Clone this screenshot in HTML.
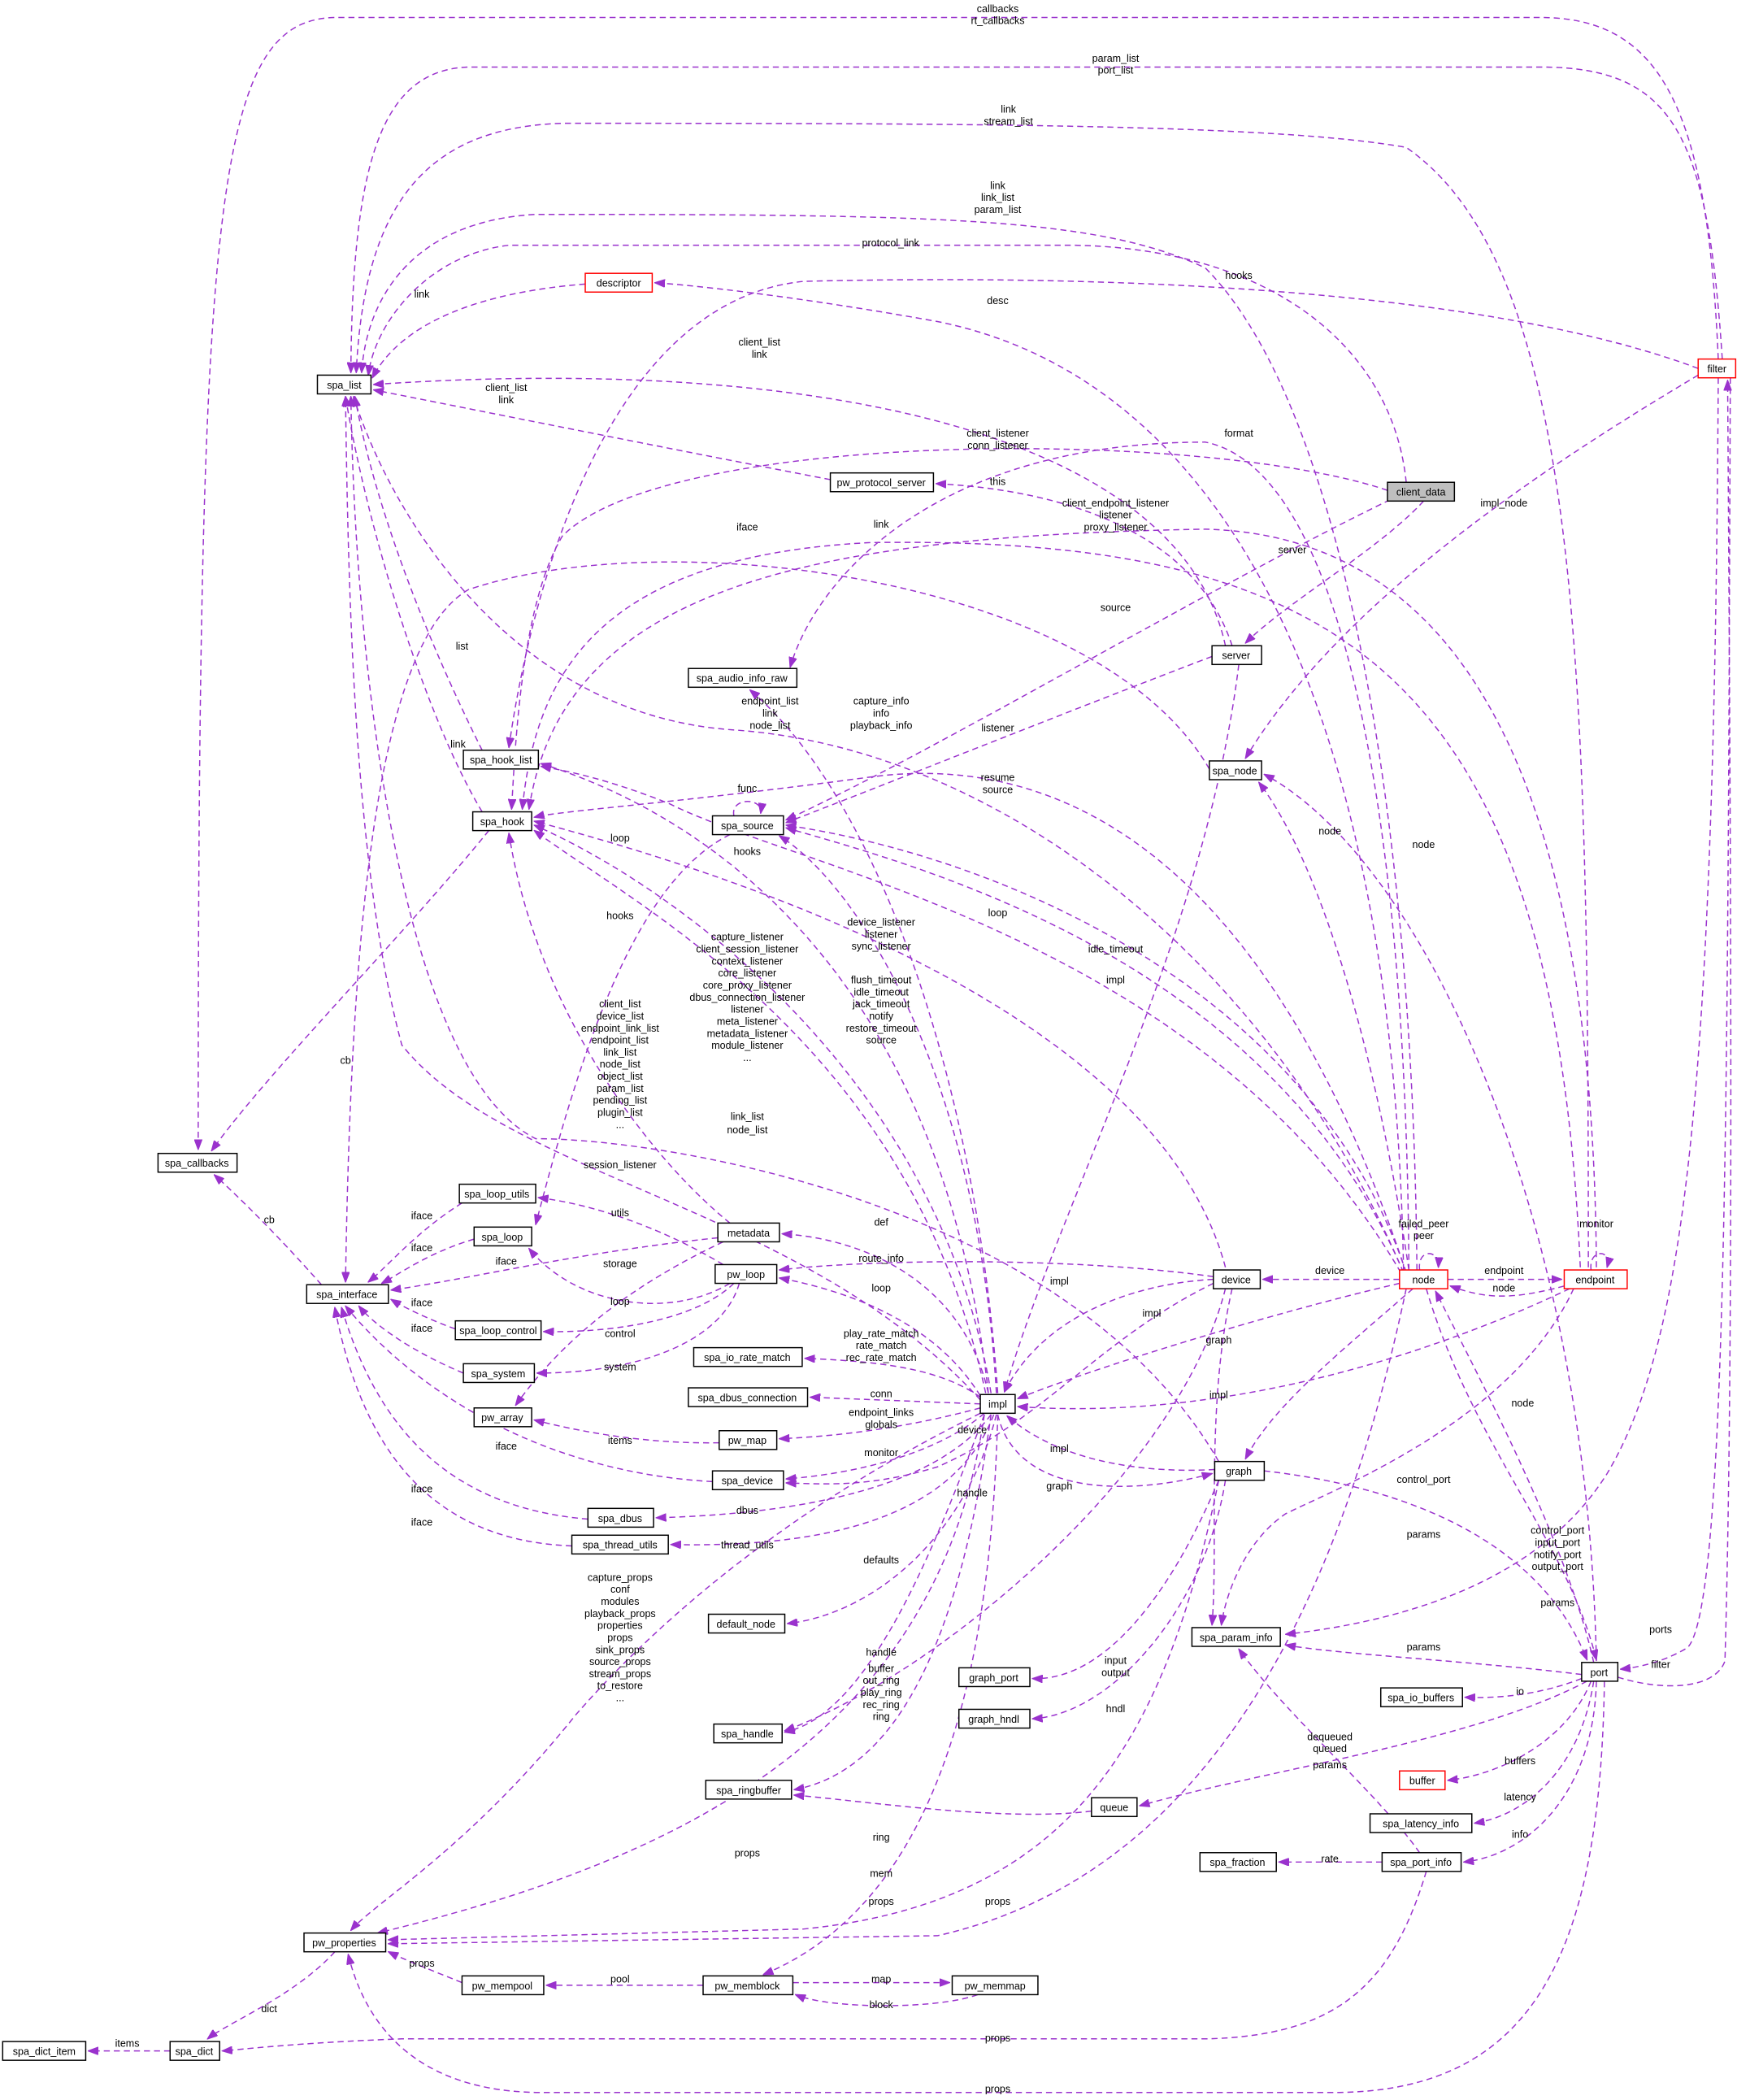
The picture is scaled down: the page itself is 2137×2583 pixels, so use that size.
<!DOCTYPE html>
<html><head><meta charset="utf-8"><style>
html,body{margin:0;padding:0;background:#fff;}
svg{display:block;}
text{font-family:"Liberation Sans",sans-serif;font-size:7.6px;fill:#000;text-anchor:middle;}
.e{fill:none;stroke:#9a32cd;stroke-width:0.9;stroke-dasharray:4.5,3;marker-end:url(#a);}
.n{fill:#fff;stroke:#000;stroke-width:0.9;}
.r{fill:#fff;stroke:#ff0000;stroke-width:0.9;}
.g{fill:#bfbfbf;stroke:#000;stroke-width:0.9;}
</style></head><body>
<svg width="2137" height="2583" viewBox="0 0 1297 1567.6" xmlns="http://www.w3.org/2000/svg">
<defs><marker id="a" markerWidth="8" markerHeight="6" refX="7.5" refY="3" orient="auto" markerUnits="userSpaceOnUse"><path d="M0,0 L8,3 L0,6 z" fill="#9a32cd" stroke="#9a32cd" stroke-width="0.5"/></marker></defs>
<g>
<path class="e" d="M1283,268 C1275,80 1240,13 1150,13 L250,13 C160,15 148,150 148,858"/>
<path class="e" d="M1286,268 C1275,100 1250,50 1150,50 L350,50 C285,52 263,120 262,278"/>
<path class="e" d="M1186,946 C1186,500 1180,200 1050,110 C950,92 700,92 420,92 C320,95 272,150 266,278"/>
<path class="e" d="M1058,948 C1055,600 1000,300 900,200 C820,162 700,160 400,160 C310,165 274,220 270,278"/>
<path class="e" d="M1050,360 C1040,260 950,185 800,183 L380,183 C320,190 280,240 275,280"/>
<path class="e" d="M437,212 C360,218 300,240 278,282"/>
<path class="e" d="M1268,275 C1100,212 800,205 600,210 C450,225 395,450 380,558"/>
<path class="e" d="M1048,948 C1040,500 900,280 700,240 C600,222 520,213 489,211"/>
<path class="e" d="M915,482 C880,320 600,265 279,287"/>
<path class="e" d="M620,358 C500,335 350,305 279,291"/>
<path class="e" d="M1036,366 C900,320 500,320 420,400 C390,450 385,550 382,604"/>
<path class="e" d="M920,482 C890,390 780,365 699,361"/>
<path class="e" d="M1063,374 C1030,410 960,450 930,480"/>
<path class="e" d="M1052,948 C1050,600 1000,350 900,330 C700,330 610,430 590,498"/>
<path class="e" d="M1192,946 C1190,600 1100,400 900,395 C600,400 420,440 395,604"/>
<path class="e" d="M903,574 C820,430 500,390 350,440 C280,480 262,700 258,957"/>
<path class="e" d="M1180,946 C1160,500 1000,400 650,405 C450,415 400,500 390,604"/>
<path class="e" d="M1038,373 C900,440 700,560 587,612"/>
<path class="e" d="M905,490 C800,530 650,590 587,614"/>
<path class="e" d="M548,609 C545,595 570,595 568,607"/>
<path class="e" d="M925,496 C900,700 790,900 750,1039"/>
<path class="e" d="M1048,950 C950,720 750,560 550,545 C380,535 290,380 264,296"/>
<path class="e" d="M745,1040 C730,820 660,600 560,515"/>
<path class="e" d="M1050,950 C950,650 800,560 650,580 C500,600 420,605 399,610"/>
<path class="e" d="M1052,948 C1030,800 990,650 940,584"/>
<path class="e" d="M1192,1240 C1185,900 1060,640 944,578"/>
<path class="e" d="M1268,280 C1150,350 1000,450 930,566"/>
<path class="e" d="M360,560 C320,480 280,380 265,296"/>
<path class="e" d="M360,606 C320,540 275,400 258,296"/>
<path class="e" d="M365,620 C300,700 200,800 158,859"/>
<path class="e" d="M240,959 C210,925 180,895 160,877"/>
<path class="e" d="M545,623 C470,660 430,800 400,914"/>
<path class="e" d="M738,1040 C700,700 500,600 404,570"/>
<path class="e" d="M736,1040 C680,780 480,680 399,620"/>
<path class="e" d="M732,1045 C600,900 380,880 300,780 C265,650 260,450 258,296"/>
<path class="e" d="M740,1040 C700,800 500,660 399,616"/>
<path class="e" d="M915,946 C860,740 500,640 399,613"/>
<path class="e" d="M1048,950 C950,720 700,650 587,618"/>
<path class="e" d="M1050,950 C980,740 750,640 587,616"/>
<path class="e" d="M1046,950 C900,700 600,650 500,600 C450,580 420,575 404,572"/>
<path class="e" d="M744,1040 C730,800 640,660 582,624"/>
<path class="e" d="M910,1091 C800,900 500,850 400,850 C300,800 265,500 262,296"/>
<path class="e" d="M545,913 C480,860 400,750 380,622"/>
<path class="e" d="M738,1040 C720,960 650,925 584,921"/>
<path class="e" d="M345,898 C310,920 290,945 275,957"/>
<path class="e" d="M354,925 C320,935 300,950 285,958"/>
<path class="e" d="M536,924 C430,935 350,955 292,963"/>
<path class="e" d="M540,927 C470,960 420,1000 385,1049"/>
<path class="e" d="M540,944 C500,920 450,900 402,894"/>
<path class="e" d="M545,958 C500,985 430,975 395,932"/>
<path class="e" d="M548,958 C520,985 460,995 406,994"/>
<path class="e" d="M552,958 C540,1000 480,1025 401,1025"/>
<path class="e" d="M732,1042 C700,990 640,965 582,954"/>
<path class="e" d="M906,953 C800,938 650,940 582,948"/>
<path class="e" d="M340,992 C320,985 300,975 292,970"/>
<path class="e" d="M346,1025 C310,1010 280,990 268,975"/>
<path class="e" d="M732,1043 C700,1020 650,1016 601,1014"/>
<path class="e" d="M732,1048 L605,1043"/>
<path class="e" d="M732,1051 C680,1065 630,1072 582,1074"/>
<path class="e" d="M537,1077 C480,1078 430,1068 399,1060"/>
<path class="e" d="M735,1055 C700,1085 640,1100 587,1104"/>
<path class="e" d="M906,958 C820,1000 780,1060 700,1095 C650,1110 620,1108 587,1107"/>
<path class="e" d="M532,1106 C420,1100 320,1050 258,975"/>
<path class="e" d="M439,1134 C330,1125 280,1060 255,976"/>
<path class="e" d="M427,1154 C320,1150 270,1080 250,976"/>
<path class="e" d="M740,1056 C700,1110 600,1130 490,1133"/>
<path class="e" d="M742,1056 C710,1140 600,1155 501,1153"/>
<path class="e" d="M744,1056 C720,1150 650,1205 588,1212"/>
<path class="e" d="M906,955 C850,958 780,980 750,1039"/>
<path class="e" d="M1045,958 C950,980 820,1020 760,1044"/>
<path class="e" d="M1045,955 L943,955"/>
<path class="e" d="M1081,955 L1166,955"/>
<path class="e" d="M1168,960 C1130,970 1110,970 1083,960"/>
<path class="e" d="M1060,948 C1058,932 1075,932 1074,946"/>
<path class="e" d="M1188,948 C1186,932 1204,932 1200,946"/>
<path class="e" d="M1055,962 C1000,1010 950,1050 930,1089"/>
<path class="e" d="M1172,962 C1050,1020 900,1060 760,1050"/>
<path class="e" d="M745,1056 C760,1120 850,1115 905,1100"/>
<path class="e" d="M907,1097 C850,1100 790,1090 752,1057"/>
<path class="e" d="M735,1056 C700,1150 650,1280 586,1293"/>
<path class="e" d="M944,1098 C1050,1110 1150,1150 1185,1239"/>
<path class="e" d="M1065,962 C1100,1080 1170,1150 1192,1239"/>
<path class="e" d="M1175,962 C1130,1060 1000,1110 960,1130 C930,1150 915,1190 912,1213"/>
<path class="e" d="M1283,282 C1280,800 1260,1000 1200,1100 C1150,1180 1050,1210 960,1220"/>
<path class="e" d="M1181,1250 C1100,1240 1000,1235 960,1228"/>
<path class="e" d="M1292,282 C1290,800 1290,1200 1260,1230 C1240,1242 1220,1245 1210,1246"/>
<path class="e" d="M1208,1252 C1240,1262 1280,1262 1288,1240 C1295,1000 1292,600 1290,284"/>
<path class="e" d="M1190,1241 C1170,1150 1100,1020 1072,964"/>
<path class="e" d="M1181,1253 C1150,1265 1120,1268 1094,1267"/>
<path class="e" d="M1185,1255 C1100,1300 950,1320 851,1348"/>
<path class="e" d="M1188,1255 C1170,1300 1120,1325 1081,1329"/>
<path class="e" d="M1190,1255 C1180,1320 1140,1355 1101,1361"/>
<path class="e" d="M1192,1255 C1190,1340 1140,1385 1093,1390"/>
<path class="e" d="M1060,1383 C1030,1340 960,1280 925,1231"/>
<path class="e" d="M1032,1390 L955,1390"/>
<path class="e" d="M1065,1397 C1040,1480 1000,1520 900,1522 L300,1522 C220,1525 180,1530 166,1531"/>
<path class="e" d="M1198,1255 C1195,1450 1150,1560 1000,1562 L400,1562 C300,1560 270,1500 260,1459"/>
<path class="e" d="M250,1457 C220,1490 170,1510 155,1522"/>
<path class="e" d="M127,1531 L66,1531"/>
<path class="e" d="M345,1480 C320,1470 300,1462 290,1457"/>
<path class="e" d="M525,1482 L408,1482"/>
<path class="e" d="M592,1480 L709,1480"/>
<path class="e" d="M730,1489 C700,1500 620,1500 594,1489"/>
<path class="e" d="M745,1056 C740,1250 700,1420 570,1474"/>
<path class="e" d="M735,1056 C700,1300 500,1390 282,1443"/>
<path class="e" d="M732,1055 C600,1120 500,1200 430,1280 C350,1380 280,1420 262,1441"/>
<path class="e" d="M910,1105 C870,1300 800,1420 600,1440 L290,1448"/>
<path class="e" d="M1050,962 C1000,1200 900,1400 700,1445 L290,1451"/>
<path class="e" d="M740,1056 C720,1200 680,1320 593,1336"/>
<path class="e" d="M815,1352 C750,1360 650,1345 593,1340"/>
<path class="e" d="M915,962 C880,1100 700,1250 586,1292"/>
<path class="e" d="M910,1105 C870,1200 820,1255 771,1253"/>
<path class="e" d="M915,1105 C900,1200 830,1280 771,1283"/>
<path class="e" d="M920,962 C900,1050 910,1150 905,1213"/>
</g>
<g>
<rect class="n" x="237" y="280" width="40" height="14"/><text x="257" y="290">spa_list</text>
<rect class="r" x="437" y="204" width="50" height="14"/><text x="462" y="214">descriptor</text>
<rect class="r" x="1268" y="268" width="28" height="14"/><text x="1282" y="278">filter</text>
<rect class="g" x="1036" y="360" width="50" height="14"/><text x="1061" y="370">client_data</text>
<rect class="n" x="620" y="353" width="77" height="14"/><text x="658" y="363">pw_protocol_server</text>
<rect class="n" x="905" y="482" width="37" height="14"/><text x="923" y="492">server</text>
<rect class="n" x="514" y="499" width="81" height="14"/><text x="554" y="509">spa_audio_info_raw</text>
<rect class="n" x="903" y="568" width="39" height="14"/><text x="922" y="578">spa_node</text>
<rect class="n" x="346" y="560" width="56" height="14"/><text x="374" y="570">spa_hook_list</text>
<rect class="n" x="532" y="609" width="53" height="14"/><text x="558" y="619">spa_source</text>
<rect class="n" x="353" y="606" width="44" height="14"/><text x="375" y="616">spa_hook</text>
<rect class="n" x="118" y="861" width="59" height="14"/><text x="147" y="871">spa_callbacks</text>
<rect class="n" x="343" y="884" width="57" height="14"/><text x="371" y="894">spa_loop_utils</text>
<rect class="n" x="536" y="913" width="46" height="14"/><text x="559" y="923">metadata</text>
<rect class="n" x="354" y="916" width="43" height="14"/><text x="375" y="926">spa_loop</text>
<rect class="n" x="229" y="959" width="61" height="14"/><text x="259" y="969">spa_interface</text>
<rect class="n" x="534" y="944" width="46" height="14"/><text x="557" y="954">pw_loop</text>
<rect class="n" x="906" y="948" width="35" height="14"/><text x="923" y="958">device</text>
<rect class="r" x="1045" y="948" width="36" height="14"/><text x="1063" y="958">node</text>
<rect class="r" x="1168" y="948" width="47" height="14"/><text x="1191" y="958">endpoint</text>
<rect class="n" x="340" y="986" width="64" height="14"/><text x="372" y="996">spa_loop_control</text>
<rect class="n" x="518" y="1006" width="81" height="14"/><text x="558" y="1016">spa_io_rate_match</text>
<rect class="n" x="346" y="1018" width="53" height="14"/><text x="372" y="1028">spa_system</text>
<rect class="n" x="732" y="1041" width="26" height="14"/><text x="745" y="1051">impl</text>
<rect class="n" x="514" y="1036" width="89" height="14"/><text x="558" y="1046">spa_dbus_connection</text>
<rect class="n" x="354" y="1051" width="43" height="14"/><text x="375" y="1061">pw_array</text>
<rect class="n" x="537" y="1068" width="43" height="14"/><text x="558" y="1078">pw_map</text>
<rect class="n" x="532" y="1098" width="53" height="14"/><text x="558" y="1108">spa_device</text>
<rect class="n" x="907" y="1091" width="37" height="14"/><text x="925" y="1101">graph</text>
<rect class="n" x="439" y="1126" width="49" height="14"/><text x="463" y="1136">spa_dbus</text>
<rect class="n" x="427" y="1146" width="72" height="14"/><text x="463" y="1156">spa_thread_utils</text>
<rect class="n" x="529" y="1205" width="57" height="14"/><text x="557" y="1215">default_node</text>
<rect class="n" x="890" y="1215" width="66" height="14"/><text x="923" y="1225">spa_param_info</text>
<rect class="n" x="1181" y="1241" width="27" height="14"/><text x="1194" y="1251">port</text>
<rect class="n" x="716" y="1245" width="53" height="14"/><text x="742" y="1255">graph_port</text>
<rect class="n" x="1031" y="1260" width="61" height="14"/><text x="1061" y="1270">spa_io_buffers</text>
<rect class="n" x="716" y="1276" width="53" height="14"/><text x="742" y="1286">graph_hndl</text>
<rect class="n" x="533" y="1287" width="51" height="14"/><text x="558" y="1297">spa_handle</text>
<rect class="r" x="1045" y="1322" width="34" height="14"/><text x="1062" y="1332">buffer</text>
<rect class="n" x="527" y="1329" width="64" height="14"/><text x="559" y="1339">spa_ringbuffer</text>
<rect class="n" x="815" y="1342" width="34" height="14"/><text x="832" y="1352">queue</text>
<rect class="n" x="1023" y="1354" width="76" height="14"/><text x="1061" y="1364">spa_latency_info</text>
<rect class="n" x="896" y="1383" width="57" height="14"/><text x="924" y="1393">spa_fraction</text>
<rect class="n" x="1032" y="1383" width="59" height="14"/><text x="1061" y="1393">spa_port_info</text>
<rect class="n" x="227" y="1443" width="61" height="14"/><text x="257" y="1453">pw_properties</text>
<rect class="n" x="345" y="1475" width="61" height="14"/><text x="375" y="1485">pw_mempool</text>
<rect class="n" x="525" y="1475" width="67" height="14"/><text x="558" y="1485">pw_memblock</text>
<rect class="n" x="711" y="1475" width="64" height="14"/><text x="743" y="1485">pw_memmap</text>
<rect class="n" x="2" y="1524" width="62" height="14"/><text x="33" y="1534">spa_dict_item</text>
<rect class="n" x="127" y="1524" width="37" height="14"/><text x="145" y="1534">spa_dict</text>
</g>
<g>
<text x="745" y="9">callbacks</text><text x="745" y="18">rt_callbacks</text>
<text x="833" y="46">param_list</text><text x="833" y="55">port_list</text>
<text x="753" y="84">link</text><text x="753" y="93">stream_list</text>
<text x="745" y="141">link</text><text x="745" y="150">link_list</text><text x="745" y="159">param_list</text>
<text x="665" y="184">protocol_link</text>
<text x="925" y="208">hooks</text>
<text x="315" y="222">link</text>
<text x="745" y="227">desc</text>
<text x="567" y="258">client_list</text><text x="567" y="267">link</text>
<text x="378" y="292">client_list</text><text x="378" y="301">link</text>
<text x="925" y="326">format</text>
<text x="745" y="326">client_listener</text><text x="745" y="335">conn_listener</text>
<text x="745" y="362">this</text>
<text x="833" y="378">client_endpoint_listener</text><text x="833" y="387">listener</text><text x="833" y="396">proxy_listener</text>
<text x="1123" y="378">impl_node</text>
<text x="558" y="396">iface</text>
<text x="658" y="394">link</text>
<text x="965" y="413">server</text>
<text x="833" y="456">source</text>
<text x="345" y="485">list</text>
<text x="575" y="526">endpoint_list</text><text x="575" y="535">link</text><text x="575" y="544">node_list</text>
<text x="658" y="526">capture_info</text><text x="658" y="535">info</text><text x="658" y="544">playback_info</text>
<text x="745" y="546">listener</text>
<text x="342" y="558">link</text>
<text x="745" y="583">resume</text><text x="745" y="592">source</text>
<text x="558" y="591">func</text>
<text x="993" y="623">node</text>
<text x="1063" y="633">node</text>
<text x="463" y="628">loop</text>
<text x="558" y="638">hooks</text>
<text x="463" y="686">hooks</text>
<text x="745" y="684">loop</text>
<text x="658" y="691">device_listener</text><text x="658" y="700">listener</text><text x="658" y="709">sync_listener</text>
<text x="833" y="711">idle_timeout</text>
<text x="833" y="734">impl</text>
<g>
<text x="558" y="702">capture_listener</text><text x="558" y="711">client_session_listener</text><text x="558" y="720">context_listener</text><text x="558" y="729">core_listener</text><text x="558" y="738">core_proxy_listener</text><text x="558" y="747">dbus_connection_listener</text><text x="558" y="756">listener</text><text x="558" y="765">meta_listener</text><text x="558" y="774">metadata_listener</text><text x="558" y="783">module_listener</text><text x="558" y="792">...</text>
</g>
<g>
<text x="658" y="734">flush_timeout</text><text x="658" y="743">idle_timeout</text><text x="658" y="752">jack_timeout</text><text x="658" y="761">notify</text><text x="658" y="770">restore_timeout</text><text x="658" y="779">source</text>
</g>
<g>
<text x="463" y="752">client_list</text><text x="463" y="761">device_list</text><text x="463" y="770">endpoint_link_list</text><text x="463" y="779">endpoint_list</text><text x="463" y="788">link_list</text><text x="463" y="797">node_list</text><text x="463" y="806">object_list</text><text x="463" y="815">param_list</text><text x="463" y="824">pending_list</text><text x="463" y="833">plugin_list</text><text x="463" y="842">...</text>
</g>
<text x="258" y="794">cb</text>
<text x="558" y="836">link_list</text><text x="558" y="846">node_list</text>
<text x="463" y="872">session_listener</text>
<text x="315" y="910">iface</text>
<text x="463" y="908">utils</text>
<text x="201" y="913">cb</text>
<text x="658" y="915">def</text>
<text x="1063" y="916">failed_peer</text><text x="1063" y="925">peer</text>
<text x="1192" y="916">monitor</text>
<text x="315" y="934">iface</text>
<text x="378" y="944">iface</text>
<text x="463" y="946">storage</text>
<text x="658" y="942">route_info</text>
<text x="993" y="951">device</text>
<text x="1123" y="951">endpoint</text>
<text x="1123" y="964">node</text>
<text x="791" y="959">impl</text>
<text x="658" y="964">loop</text>
<text x="463" y="974">loop</text>
<text x="315" y="975">iface</text>
<text x="860" y="983">impl</text>
<text x="315" y="994">iface</text>
<text x="463" y="998">control</text>
<text x="658" y="998">play_rate_match</text><text x="658" y="1007">rate_match</text><text x="658" y="1016">rec_rate_match</text>
<text x="910" y="1003">graph</text>
<text x="463" y="1023">system</text>
<text x="658" y="1043">conn</text>
<text x="910" y="1044">impl</text>
<text x="1137" y="1050">node</text>
<text x="658" y="1057">endpoint_links</text><text x="658" y="1066">globals</text>
<text x="726" y="1070">device</text>
<text x="463" y="1078">items</text>
<text x="378" y="1082">iface</text>
<text x="791" y="1084">impl</text>
<text x="658" y="1087">monitor</text>
<text x="1063" y="1107">control_port</text>
<text x="791" y="1112">graph</text>
<text x="726" y="1117">handle</text>
<text x="315" y="1114">iface</text>
<text x="558" y="1130">dbus</text>
<text x="315" y="1139">iface</text>
<text x="1163" y="1145">control_port</text><text x="1163" y="1154">input_port</text><text x="1163" y="1163">notify_port</text><text x="1163" y="1172">output_port</text>
<text x="1063" y="1148">params</text>
<text x="558" y="1156">thread_utils</text>
<text x="658" y="1167">defaults</text>
<g>
<text x="463" y="1180">capture_props</text><text x="463" y="1189">conf</text><text x="463" y="1198">modules</text><text x="463" y="1207">playback_props</text><text x="463" y="1216">properties</text><text x="463" y="1225">props</text><text x="463" y="1234">sink_props</text><text x="463" y="1243">source_props</text><text x="463" y="1252">stream_props</text><text x="463" y="1261">to_restore</text><text x="463" y="1270">...</text>
</g>
<text x="1163" y="1199">params</text>
<text x="1240" y="1219">ports</text>
<text x="1063" y="1232">params</text>
<text x="658" y="1236">handle</text>
<text x="833" y="1242">input</text><text x="833" y="1251">output</text>
<text x="1240" y="1245">filter</text>
<text x="658" y="1248">buffer</text><text x="658" y="1257">out_ring</text><text x="658" y="1266">play_ring</text><text x="658" y="1275">rec_ring</text><text x="658" y="1284">ring</text>
<text x="1135" y="1265">io</text>
<text x="833" y="1278">hndl</text>
<text x="993" y="1299">dequeued</text><text x="993" y="1308">queued</text>
<text x="1135" y="1317">buffers</text>
<text x="993" y="1320">params</text>
<text x="1135" y="1344">latency</text>
<text x="1135" y="1372">info</text>
<text x="658" y="1374">ring</text>
<text x="558" y="1386">props</text>
<text x="993" y="1390">rate</text>
<text x="658" y="1401">mem</text>
<text x="658" y="1422">props</text>
<text x="745" y="1422">props</text>
<text x="315" y="1468">props</text>
<text x="463" y="1480">pool</text>
<text x="658" y="1480">map</text>
<text x="658" y="1499">block</text>
<text x="201" y="1502">dict</text>
<text x="745" y="1524">props</text>
<text x="95" y="1528">items</text>
<text x="745" y="1562">props</text>
</g>
</svg>
</body></html>
